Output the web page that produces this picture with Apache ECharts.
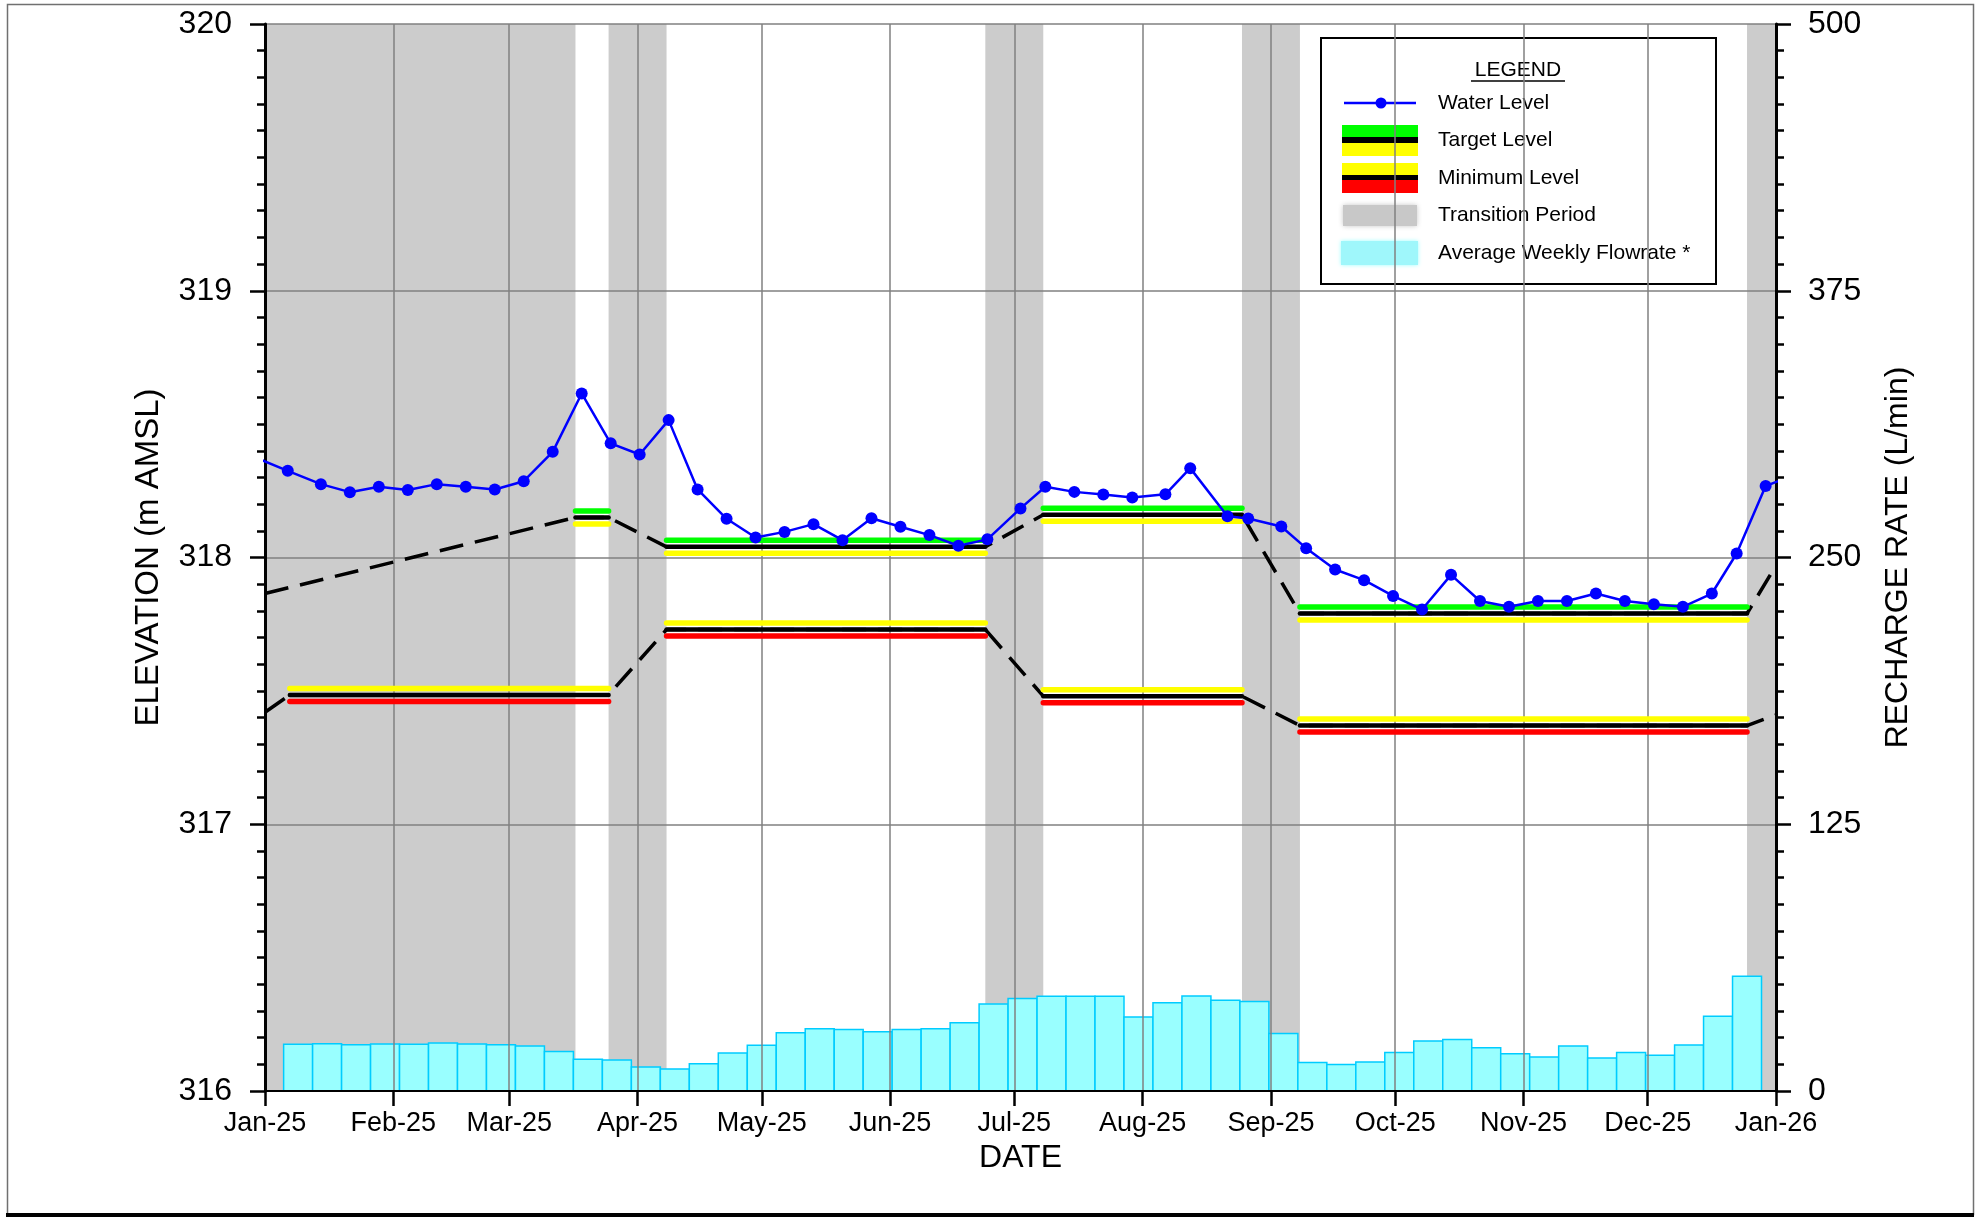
<!DOCTYPE html>
<html>
<head>
<meta charset="utf-8">
<title>Water Level, Target Levels and Recharge Rate - 2025</title>
<script src="https://cdn.jsdelivr.net/npm/echarts@6/dist/echarts.min.js"></script>
<style>
  html, body { margin: 0; padding: 0; background: #fff; }
  #chart { width: 1978px; height: 1217px; }
</style>
</head>
<body>
<div id="chart"></div>
<script>
const FONT = '"Liberation Sans", Arial, sans-serif'
const monthNames = ['Jan', 'Feb', 'Mar', 'Apr', 'May', 'Jun', 'Jul', 'Aug', 'Sep', 'Oct', 'Nov', 'Dec']

// water level readings (m AMSL), taken around midday; first and last fall just outside the plotted year
const wlDates = [
  '2024-12-30', '2025-01-06', '2025-01-14', '2025-01-21', '2025-01-28', '2025-02-04', '2025-02-11',
  '2025-02-18', '2025-02-25', '2025-03-04', '2025-03-11', '2025-03-18', '2025-03-25', '2025-04-01',
  '2025-04-08', '2025-04-15', '2025-04-22', '2025-04-29', '2025-05-06', '2025-05-13', '2025-05-20',
  '2025-05-27', '2025-06-03', '2025-06-10', '2025-06-17', '2025-06-24', '2025-07-02', '2025-07-08',
  '2025-07-15', '2025-07-22', '2025-07-29', '2025-08-06', '2025-08-12', '2025-08-21', '2025-08-26',
  '2025-09-03', '2025-09-09', '2025-09-16', '2025-09-23', '2025-09-30', '2025-10-07', '2025-10-14',
  '2025-10-21', '2025-10-28', '2025-11-04', '2025-11-11', '2025-11-18', '2025-11-25', '2025-12-02',
  '2025-12-09', '2025-12-16', '2025-12-22', '2025-12-29', '2026-01-05',
]
const wlValues = [
  318.37, 318.325, 318.275, 318.245, 318.265, 318.253, 318.275,
  318.265, 318.255, 318.286, 318.396, 318.615, 318.428, 318.386,
  318.515, 318.255, 318.145, 318.075, 318.096, 318.125, 318.065,
  318.147, 318.115, 318.084, 318.044, 318.068, 318.184, 318.265,
  318.246, 318.236, 318.225, 318.237, 318.335, 318.155, 318.146,
  318.116, 318.035, 317.955, 317.915, 317.856, 317.805, 317.935,
  317.837, 317.815, 317.837, 317.837, 317.865, 317.837, 317.825,
  317.815, 317.865, 318.015, 318.268, 318.31,
]

// average weekly flowrate (L/min), each bar covers the week starting on the date
const flowWeekStart = [
  '2025-01-05', '2025-01-12', '2025-01-19', '2025-01-26', '2025-02-02', '2025-02-09', '2025-02-16',
  '2025-02-23', '2025-03-02', '2025-03-09', '2025-03-16', '2025-03-23', '2025-03-30', '2025-04-06',
  '2025-04-13', '2025-04-20', '2025-04-27', '2025-05-04', '2025-05-11', '2025-05-18', '2025-05-25',
  '2025-06-01', '2025-06-08', '2025-06-15', '2025-06-22', '2025-06-29', '2025-07-06', '2025-07-13',
  '2025-07-20', '2025-07-27', '2025-08-03', '2025-08-10', '2025-08-17', '2025-08-24', '2025-08-31',
  '2025-09-07', '2025-09-14', '2025-09-21', '2025-09-28', '2025-10-05', '2025-10-12', '2025-10-19',
  '2025-10-26', '2025-11-02', '2025-11-09', '2025-11-16', '2025-11-23', '2025-11-30', '2025-12-07',
  '2025-12-14', '2025-12-21',
]
const flowValues = [
  21.9, 22.2, 21.7, 22.0, 21.9, 22.5, 22.0,
  21.7, 21.1, 18.5, 14.9, 14.5, 11.3, 10.3,
  12.8, 17.8, 21.4, 27.3, 29.2, 28.8, 27.8,
  28.8, 29.2, 32.0, 40.8, 43.3, 44.4, 44.4,
  44.4, 34.7, 41.4, 44.5, 42.5, 41.9, 26.9,
  13.3, 12.4, 13.6, 18.0, 23.4, 24.1, 20.3,
  17.5, 15.9, 21.1, 15.5, 18.0, 16.7, 21.6,
  35.0, 53.8,
]

// transition periods
const transitionStart = ['2025-01-01', '2025-03-25', '2025-06-24', '2025-08-25', '2025-12-25']
const transitionEnd = ['2025-03-17', '2025-04-08', '2025-07-08', '2025-09-08', '2026-01-01']

// target level periods (m AMSL)
const targetStart = ['2025-03-17', '2025-04-08', '2025-07-08', '2025-09-08']
const targetEnd = ['2025-03-25', '2025-06-24', '2025-08-25', '2025-12-25']
const targetValue = [318.15, 318.04, 318.16, 317.79]
const targetEdge = [317.865, 317.97] // where the dashed target line meets the year edges

// minimum level periods (m AMSL)
const minStart = ['2025-01-07', '2025-04-08', '2025-07-08', '2025-09-08']
const minEnd = ['2025-03-25', '2025-06-24', '2025-08-25', '2025-12-25']
const minValue = [317.485, 317.73, 317.48, 317.37]
const minEdge = [317.42, 317.41]

const yearStart = '2025-01-01'
const yearEnd = '2026-01-01'
const WEEK = 7 * 86400000

function dashedPath(starts, ends, values, edge) {
  const path = [[yearStart, edge[0]]]
  starts.forEach((s, i) => {
    path.push([s, values[i]])
    path.push([ends[i], values[i]])
  })
  path.push([yearEnd, edge[1]])
  return path
}

function levelRenderer(topColor, bottomColor) {
  return function (params, api) {
    const a = api.coord([api.value(0), api.value(2)])
    const b = api.coord([api.value(1), api.value(2)])
    const seg = (dy, color, w) => ({
      type: 'line',
      shape: { x1: a[0], y1: a[1] + dy, x2: b[0], y2: b[1] + dy },
      style: { stroke: color, lineWidth: w, lineCap: 'round' },
    })
    return {
      type: 'group',
      children: [seg(-6.5, topColor, 5.5), seg(6.5, bottomColor, 5.5), seg(0, '#000', 4.5)],
    }
  }
}

const levelDims = [
  { name: 'start', type: 'time' },
  { name: 'end', type: 'time' },
  { name: 'level', type: 'float' },
]

const legendText = (text, y) => ({
  type: 'text',
  style: { text, x: 1438, y, font: '21px ' + FONT, fill: '#000', verticalAlign: 'middle' },
})

const myChart = echarts.init(document.getElementById('chart'))
const option = {
  backgroundColor: '#fff',
  animation: false,
  grid: {
    left: 265,
    right: 202,
    top: 24,
    bottom: 126,
  },
  xAxis: {
    type: 'time',
    min: yearStart,
    max: yearEnd,
    splitNumber: 12,
    minInterval: 28 * 86400000,
    maxInterval: 31 * 86400000,
    z: 3,
    name: 'DATE',
    nameLocation: 'middle',
    nameGap: 44,
    nameTextStyle: { fontFamily: FONT, fontSize: 32, color: '#000' },
    axisLine: { lineStyle: { color: '#000', width: 2 } },
    axisTick: { show: true, length: 15, lineStyle: { color: '#000', width: 2.5 } },
    axisLabel: {
      fontFamily: FONT,
      fontSize: 27,
      color: '#000',
      margin: 19,
      showMinLabel: true,
      showMaxLabel: true,
      hideOverlap: false,
      formatter: (val) => {
        const d = new Date(val)
        return monthNames[d.getMonth()] + '-' + String(d.getFullYear()).slice(2)
      },
    },
    splitLine: { show: true, lineStyle: { color: '#808080', width: 1.5 } },
  },
  yAxis: [
    {
      type: 'value',
      min: 316,
      max: 320,
      interval: 1,
      z: 3,
      name: 'ELEVATION (m AMSL)',
      nameLocation: 'middle',
      nameRotate: 90,
      nameGap: 100,
      nameTextStyle: { fontFamily: FONT, fontSize: 33, color: '#000' },
      axisLine: { show: true, lineStyle: { color: '#000', width: 3 } },
      axisTick: { show: true, length: 15, lineStyle: { color: '#000', width: 2.5 } },
      minorTick: { show: true, splitNumber: 10, length: 8, lineStyle: { color: '#000', width: 2.5 } },
      axisLabel: { fontFamily: FONT, fontSize: 32, color: '#000', margin: 33 },
      splitLine: { show: true, lineStyle: { color: '#808080', width: 1.5 } },
    },
    {
      type: 'value',
      min: 0,
      max: 500,
      interval: 125,
      z: 3,
      position: 'right',
      name: 'RECHARGE RATE (L/min)',
      nameLocation: 'middle',
      nameRotate: 90,
      nameGap: 106,
      nameTextStyle: { fontFamily: FONT, fontSize: 32, color: '#000' },
      axisLine: { show: true, lineStyle: { color: '#000', width: 3 } },
      axisTick: { show: true, length: 15, lineStyle: { color: '#000', width: 2.5 } },
      minorTick: { show: true, splitNumber: 10, length: 8, lineStyle: { color: '#000', width: 2.5 } },
      axisLabel: { fontFamily: FONT, fontSize: 32, color: '#000', margin: 32 },
      splitLine: { show: false },
    },
  ],
  series: [
    {
      name: 'Transition Period',
      type: 'custom',
      z: 1,
      clip: true,
      dimensions: [{ name: 'start', type: 'time' }, { name: 'end', type: 'time' }],
      encode: { x: [0, 1] },
      data: transitionStart.map((s, i) => [s, transitionEnd[i]]),
      renderItem: (params, api) => {
        const cs = params.coordSys
        const x0 = api.coord([api.value(0), 318])[0]
        const x1 = api.coord([api.value(1), 318])[0]
        return {
          type: 'rect',
          shape: { x: x0, y: cs.y, width: x1 - x0, height: cs.height },
          style: { fill: '#cccccc' },
        }
      },
    },
    {
      name: 'Average Weekly Flowrate *',
      type: 'custom',
      z: 2,
      clip: true,
      yAxisIndex: 1,
      dimensions: [{ name: 'week', type: 'time' }, { name: 'flow', type: 'float' }],
      encode: { x: 0, y: 1 },
      data: flowWeekStart.map((d, i) => [d + 'T12:00', flowValues[i]]),
      renderItem: (params, api) => {
        const t0 = api.value(0)
        const top = api.coord([t0, api.value(1)])
        const base = api.coord([t0 + WEEK, 0])
        return {
          type: 'rect',
          shape: { x: top[0], y: top[1], width: base[0] - top[0], height: base[1] - top[1] },
          style: { fill: '#99ffff', stroke: '#00ccff', lineWidth: 1.5 },
        }
      },
    },
    {
      name: 'Target Trend',
      type: 'line',
      z: 4,
      symbol: 'none',
      lineStyle: { color: '#000', width: 3.5, type: [24, 12] },
      data: dashedPath(targetStart, targetEnd, targetValue, targetEdge),
    },
    {
      name: 'Minimum Trend',
      type: 'line',
      z: 4,
      symbol: 'none',
      lineStyle: { color: '#000', width: 3.5, type: [24, 12] },
      data: dashedPath(minStart, minEnd, minValue, minEdge),
    },
    {
      name: 'Target Level',
      type: 'custom',
      z: 5,
      dimensions: levelDims,
      encode: { x: [0, 1], y: 2 },
      data: targetStart.map((s, i) => [s, targetEnd[i], targetValue[i]]),
      renderItem: levelRenderer('#00ff00', '#ffff00'),
    },
    {
      name: 'Minimum Level',
      type: 'custom',
      z: 5,
      dimensions: levelDims,
      encode: { x: [0, 1], y: 2 },
      data: minStart.map((s, i) => [s, minEnd[i], minValue[i]]),
      renderItem: levelRenderer('#ffff00', '#ff0000'),
    },
    {
      name: 'Water Level',
      type: 'line',
      z: 6,
      clip: true,
      symbol: 'circle',
      symbolSize: 12,
      showSymbol: true,
      showAllSymbol: true,
      itemStyle: { color: '#0000ff' },
      lineStyle: { color: '#0000ff', width: 2.5 },
      data: wlDates.map((d, i) => [d + 'T12:00', wlValues[i]]),
    },
  ],
  graphic: [
    // outer frame
    {
      type: 'rect',
      z: 50,
      shape: { x: 7.5, y: 4.5, width: 1966, height: 1210 },
      style: { fill: 'none', stroke: '#707070', lineWidth: 1.5 },
    },
    {
      type: 'line',
      z: 50,
      shape: { x1: 6, y1: 1215, x2: 1974, y2: 1215 },
      style: { stroke: '#000', lineWidth: 4 },
    },
    // legend box
    {
      type: 'group',
      z: 100,
      children: [
        {
          type: 'rect',
          shape: { x: 1321, y: 38, width: 395, height: 246 },
          style: { fill: '#fff', stroke: '#000', lineWidth: 2 },
        },
        {
          type: 'text',
          style: { text: 'LEGEND', x: 1518, y: 70, font: '21px ' + FONT, fill: '#000', align: 'center', verticalAlign: 'middle' },
        },
        { type: 'line', shape: { x1: 1471, y1: 81, x2: 1565, y2: 81 }, style: { stroke: '#000', lineWidth: 1.5 } },
        { type: 'line', shape: { x1: 1344, y1: 103, x2: 1416, y2: 103 }, style: { stroke: '#0000ff', lineWidth: 2.5 } },
        { type: 'circle', shape: { cx: 1381, cy: 103, r: 5.5 }, style: { fill: '#0000ff' } },
        legendText('Water Level', 103),
        { type: 'rect', shape: { x: 1342, y: 125, width: 76, height: 12 }, style: { fill: '#00ff00' } },
        { type: 'rect', shape: { x: 1342, y: 137, width: 76, height: 6 }, style: { fill: '#000' } },
        { type: 'rect', shape: { x: 1342, y: 143, width: 76, height: 13 }, style: { fill: '#ffff00' } },
        legendText('Target Level', 140),
        { type: 'rect', shape: { x: 1342, y: 163, width: 76, height: 12 }, style: { fill: '#ffff00' } },
        { type: 'rect', shape: { x: 1342, y: 175, width: 76, height: 5 }, style: { fill: '#000' } },
        { type: 'rect', shape: { x: 1342, y: 180, width: 76, height: 13 }, style: { fill: '#ff0000' } },
        legendText('Minimum Level', 178),
        {
          type: 'rect',
          shape: { x: 1343, y: 205, width: 74, height: 21 },
          style: { fill: '#c8c8c8', shadowBlur: 5, shadowColor: '#c8c8c8' },
        },
        legendText('Transition Period', 215),
        {
          type: 'rect',
          shape: { x: 1341, y: 241, width: 77, height: 24 },
          style: { fill: '#9ff7fb', shadowBlur: 4, shadowColor: '#9ff' },
        },
        legendText('Average Weekly Flowrate *', 253),
      ],
    },
  ],
}
myChart.setOption(option)
</script>
</body>
</html>
